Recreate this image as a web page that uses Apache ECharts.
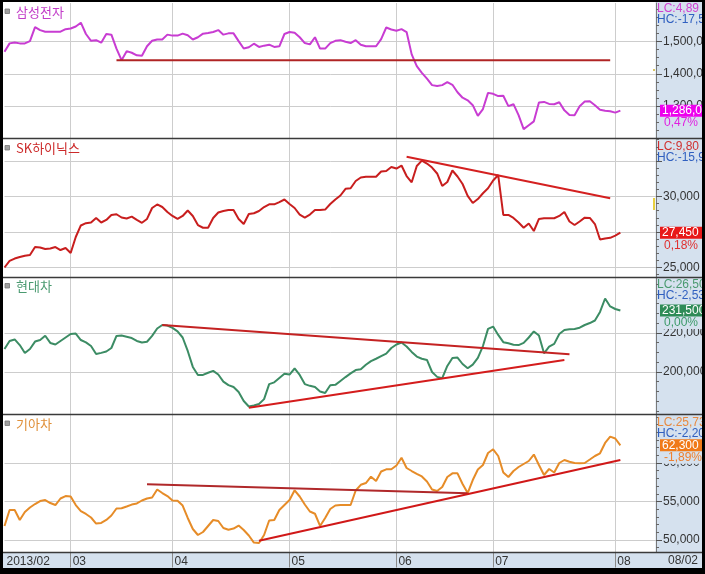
<!DOCTYPE html>
<html><head><meta charset="utf-8">
<script src="https://cdn.jsdelivr.net/npm/echarts@6/dist/echarts.min.js"></script>
<style>html,body{margin:0;padding:0;background:#fff}#c{width:705px;height:574px}</style>
</head><body><div id="c"></div>
<script>
// ---------- data ----------
const monthLabels = ['2013/02','03','04','05','06','07','08'];
const monthDays   = [13,20,23,21,19,24,2];
const padDays = 7;
const lastDateLabel = '08/02';

const samsung = [
1468000,1494000,1497000,1494000,1494000,1501000,1544000,1535000,1530000,1530000,
1530000,1530000,1538000,1540000,1546000,1558000,1523000,1502000,1504000,1496000,
1523000,1521000,1478000,1442000,1470000,1465000,1457000,1456000,1485000,1502000,
1506000,1506000,1521000,1518000,1518000,1524000,1519000,1506000,1513000,1524000,
1526000,1529000,1535000,1521000,1525000,1525000,1501000,1478000,1482000,1493000,
1483000,1487000,1490000,1483000,1485000,1523000,1529000,1527000,1513000,1495000,
1491000,1513000,1478000,1478000,1495000,1502000,1504000,1499000,1495000,1504000,
1490000,1485000,1485000,1485000,1507000,1543000,1537000,1533000,1538000,1529000,
1460000,1424000,1403000,1385000,1365000,1362000,1365000,1374000,1366000,1343000,
1326000,1318000,1303000,1270000,1291000,1341000,1338000,1331000,1332000,1300000,
1306000,1272000,1229000,1241000,1253000,1311000,1313000,1307000,1306000,1312000,
1287000,1273000,1272000,1300000,1314000,1315000,1303000,1289000,1286000,1284000,
1280000,1286000];

const hynix = [
25000,25460,25630,25740,25830,25880,26440,26410,26300,26340,
26440,26230,26370,26020,27150,27960,28120,28170,28490,28170,
28350,28700,28750,28520,28450,28580,28350,28150,28420,29190,
29440,29260,28910,28630,28420,28630,29010,28630,27990,27800,
27800,28490,28870,28980,29050,29050,28420,28060,28770,28820,
28980,29260,29450,29450,29610,29790,29470,29190,28730,28520,
28730,29050,29050,29080,29470,29790,30070,30540,30580,31090,
31340,31390,31390,31390,31760,31800,32080,31970,32180,31440,
31000,32150,32530,32320,32040,31620,30740,31020,31830,31410,
30880,30040,29540,29820,30230,30580,31130,31510,28700,28700,
28490,28170,27800,28100,27570,28420,28470,28470,28470,28630,
28910,28240,27990,28240,28510,28490,28060,26970,27040,27090,
27250,27450];

const hyundai = [
211800,215900,216700,213800,209700,211800,215600,216400,218600,214900,
214100,215900,217700,219500,219700,216400,215200,213300,209200,209800,
210500,212300,218500,218700,218100,217400,215900,215100,215500,218500,
222300,224100,223800,222600,220800,217700,210800,202600,198500,198500,
199600,200600,198700,195100,193300,192300,189700,185100,182300,182800,
183600,186100,193800,194700,196900,199100,198700,201800,198500,193800,
192900,192300,190000,189200,193200,193400,195400,197400,199300,201000,
201400,203700,205600,206800,208100,209400,212300,214100,215100,213100,
210300,207900,206800,206200,200000,197500,196800,203100,207200,207400,
204100,201900,203800,207200,213300,222100,223300,219000,215300,214700,
214000,213800,214900,217700,220800,218700,209600,213000,214400,219500,
221500,221900,222100,222700,224100,225100,226400,230800,237700,233600,
232300,231500];

const kia = [
51820,53890,53890,52600,53630,54220,54670,55060,55190,54800,
54540,55390,55710,55650,54540,53760,53380,52920,52140,52210,
52600,53180,54090,54120,54350,54600,54750,55130,55390,55520,
56560,56100,55710,55140,55100,54480,52860,51430,50650,51040,
51820,52600,52470,51560,51340,51490,51880,51300,50580,49670,
49610,50650,52530,52600,53890,54540,55190,56450,55650,54610,
53700,53410,51820,52860,54020,54480,54540,54540,54540,56430,
57170,57400,58220,57660,58900,59180,59180,59680,60680,59350,
58960,58600,58250,57600,56560,56360,56880,58180,58660,58660,
57270,56100,57790,59160,59740,61300,61780,60910,58770,58180,
58960,59480,59870,60260,61100,59740,58440,59220,58770,60000,
60390,60160,60000,59960,60000,60450,60910,61260,62600,63420,
63180,62300];

// trend lines: [categoryIndex, value]
const trendSamsung       = [[22,1442000],[119,1442000]];
const trendHynix         = [[79,32800],[119,29870]];
const trendHyundaiUpper  = [[31,224100],[111,209100]];
const trendHyundaiLower  = [[48,181700],[110,206200]];
const trendKiaUpper      = [[28,57230],[91,56060]];
const trendKiaLower      = [[50,49910],[121,60390]];

// axis ticks / labels
const gridTicksSamsung = [1300000,1400000,1500000];
const labelsSamsung    = [1300000,1400000,1500000];
const gridTicksHynix   = [25000,27500,30000,32500];
const labelsHynix      = [25000,30000];
const gridTicksHyundai = [200000,220000];
const labelsHyundai    = [200000,220000];
const gridTicksKia     = [50000,55000,60000];
const labelsKia        = [50000,55000,60000];

const names   = ['삼성전자','SK하이닉스','현대차','기아차'];
const lcTexts = ['LC:4,89','LC:9,80','LC:26,50','LC:25,73'];
const hcTexts = ['HC:-17,5','HC:-15,9','HC:-2,53','HC:-2,20'];
const pctTexts = ['0,47%','0,18%','0,00%','-1,89%'];

// ---------- chart ----------
const FONT_NUM = '"Liberation Sans",Arial,sans-serif';
const FS = 12;
const FONT_KR = '"Noto Sans CJK KR",sans-serif';
const STRIP = '#D5E1EE';

const cats = []; const monthStart = {};
monthLabels.forEach((m,k)=>{ monthStart[cats.length]=m; for(let d=0; d<monthDays[k]; d++) cats.push(m+'#'+d); });
for (let d=0; d<padDays; d++) cats.push('pad#'+d);

const panels = [
  {data:samsung, color:'#C83CD2', nameColor:'#C23CC8', top:3, bottom:138.5, min:1200000, max:1618800,
   ticks:gridTicksSamsung, labels:labelsSamsung, minorStep:25000,
   trends:[[trendSamsung,'#B02424']], lcColor:'#D040D0', tagBg:'#EE00EE', pctColor:'#E020E0'},
  {data:hynix, color:'#C81E1E', nameColor:'#CC2A2A', top:139.5, bottom:277.5, min:24296, max:34014,
   ticks:gridTicksHynix, labels:labelsHynix, minorStep:500,
   trends:[[trendHynix,'#D42020']], lcColor:'#D03030', tagBg:'#E81818', pctColor:'#E03030'},
  {data:hyundai, color:'#3C8C64', nameColor:'#4A9A70', top:277.5, bottom:414, min:178460, max:248460,
   ticks:gridTicksHyundai, labels:labelsHyundai, minorStep:5000,
   trends:[[trendHyundaiUpper,'#C42222'],[trendHyundaiLower,'#D41C1C']], lcColor:'#4A9A70', tagBg:'#2E8B57', pctColor:'#3C9A6A'},
  {data:kia, color:'#E68C28', nameColor:'#E0903A', top:415, bottom:552.5, min:48377, max:66234,
   ticks:gridTicksKia, labels:labelsKia, minorStep:1000,
   trends:[[trendKiaUpper,'#B0282A'],[trendKiaLower,'#D01818']], lcColor:'#E88A40', tagBg:'#F07A18', pctColor:'#EE8030'}
];

const fmt = v => Math.round(v).toLocaleString('en-US');
const isMonth = i => monthStart[i] !== undefined;

const grids=[], xAxes=[], yAxes=[], series=[];
panels.forEach((p,gi)=>{
  const bottomPanel = gi===3;
  grids.push({left:4.5, width:651.5, top:p.top, height:p.bottom-p.top, containLabel:false, outerBoundsMode:'none', show:false});
  xAxes.push({type:'category', gridIndex:gi, data:cats, boundaryGap:false,
    axisLine:{show:false},
    axisTick:{show:bottomPanel, interval:(i)=> i>0 && isMonth(i), length:15, lineStyle:{color:'#8a8a8a'}},
    axisLabel:{show:bottomPanel, interval:(i)=> isMonth(i), formatter:(v,i)=> monthStart[i]||'', align:'left',
      padding:[0,0,0,i=>0], margin:3, color:'#333', fontSize:FS, fontFamily:FONT_NUM},
    splitLine:{show:true, interval:(i)=> i>0 && isMonth(i), lineStyle:{color:'#cdcdcd', width:1}}
  });
  xAxes[gi].axisLabel.padding = [0,0,0,2];
  const minor=[];
  for (let v=Math.ceil(p.min/p.minorStep)*p.minorStep; v<=p.max; v+=p.minorStep) if (!p.ticks.includes(v)) minor.push(v);
  yAxes.push({type:'value', gridIndex:gi, position:'right', min:p.min, max:p.max,
    axisLine:{show:true, lineStyle:{color:'#7a7a7a'}},
    axisTick:{show:true, customValues:p.ticks, length:6, lineStyle:{color:'#555'}},
    axisLabel:{show:true, customValues:p.labels, formatter:fmt, margin:7, color:'#333', fontSize:FS, fontFamily:FONT_NUM},
    splitLine:{show:true, lineStyle:{color:'#cdcdcd', width:1}}
  });
  yAxes.push({type:'value', gridIndex:gi, position:'right', min:p.min, max:p.max,
    axisLine:{show:false}, axisTick:{show:true, customValues:minor, length:3, lineStyle:{color:'#666'}},
    axisLabel:{show:false}, splitLine:{show:false}
  });
  series.push({type:'line', name:names[gi], xAxisIndex:gi, yAxisIndex:2*gi, data:p.data, symbol:'none',
    lineStyle:{color:p.color, width:2}, itemStyle:{color:p.color}, z:3, silent:true});
  p.trends.forEach(([d,c])=>{
    series.push({type:'line', xAxisIndex:gi, yAxisIndex:2*gi, data:d, symbol:'none',
      lineStyle:{color:c, width:2}, itemStyle:{color:c}, z:4, silent:true});
  });
});

const chart = echarts.init(document.getElementById('c'));
chart.setOption({animation:false, grid:grids, xAxis:xAxes, yAxis:yAxes, series:series});

// ---------- decorations ----------
const els = [];
const numFont = FS+'px '+FONT_NUM;
els.push({type:'rect', shape:{x:655.5,y:0,width:50,height:574}, style:{fill:STRIP}, z:-100, silent:true});
els.push({type:'rect', shape:{x:0,y:553,width:656,height:16}, style:{fill:STRIP}, z:-100, silent:true});
[138.5,277.5,414.5,552.5].forEach(y=>els.push({type:'line', shape:{x1:0,y1:y,x2:705,y2:y}, style:{stroke:'#3a3a3a', lineWidth:1.5}, z:50, silent:true}));

const lcY = [[8.5,20],[146.5,157.5],[284.5,296],[422.7,433.7]];
panels.forEach((p,gi)=>{
  const ny = p.top + 10;
  els.push({type:'rect', shape:{x:5,y:ny-4,width:4.5,height:4.5}, style:{fill:'#A0A0A0', stroke:'#777', lineWidth:0.8}, z:60});
  els.push({type:'text', style:{text:names[gi], x:16, y:ny-1, fill:p.nameColor, font:'13px '+FONT_KR, verticalAlign:'middle'}, z:60});
  els.push({type:'text', style:{text:lcTexts[gi], x:657, y:lcY[gi][0], fill:p.lcColor, font:numFont, verticalAlign:'middle'}, z:60});
  els.push({type:'text', style:{text:hcTexts[gi], x:657, y:lcY[gi][1], fill:'#3060C0', font:numFont, verticalAlign:'middle'}, z:60});
  const lastVal = p.data[p.data.length-1];
  const py = chart.convertToPixel({yAxisIndex:2*gi}, lastVal);
  els.push({type:'rect', shape:{x:660,y:py-6,width:46,height:12}, style:{fill:p.tagBg}, z:70});
  els.push({type:'text', style:{text:fmt(lastVal), x:662, y:py, fill:'#fff', font:numFont, verticalAlign:'middle'}, z:71});
  els.push({type:'text', style:{text:pctTexts[gi], x:663, y:py+12.5, fill:p.pctColor, font:numFont, verticalAlign:'middle',
    backgroundColor:STRIP, padding:[0,6,0,1]}, z:69});
});
els.push({type:'text', style:{text:lastDateLabel, x:668, y:561, fill:'#333', font:numFont, verticalAlign:'middle'}, z:60});
els.push({type:'line', shape:{x1:654,y1:198,x2:654,y2:210}, style:{stroke:'#E8D040', lineWidth:2}, z:60});
els.push({type:'circle', shape:{cx:654,cy:70,r:1}, style:{fill:'#C8B030'}, z:60});
// frame
els.push({type:'rect', shape:{x:0,y:0,width:705,height:2}, style:{fill:'#000'}, z:1000});
els.push({type:'rect', shape:{x:0,y:0,width:3,height:574}, style:{fill:'#000'}, z:1000});
els.push({type:'rect', shape:{x:702,y:0,width:3,height:574}, style:{fill:'#000'}, z:1000});
els.push({type:'rect', shape:{x:0,y:568,width:705,height:6}, style:{fill:'#000'}, z:1000});

chart.setOption({graphic:{elements:els}});
</script></body></html>
